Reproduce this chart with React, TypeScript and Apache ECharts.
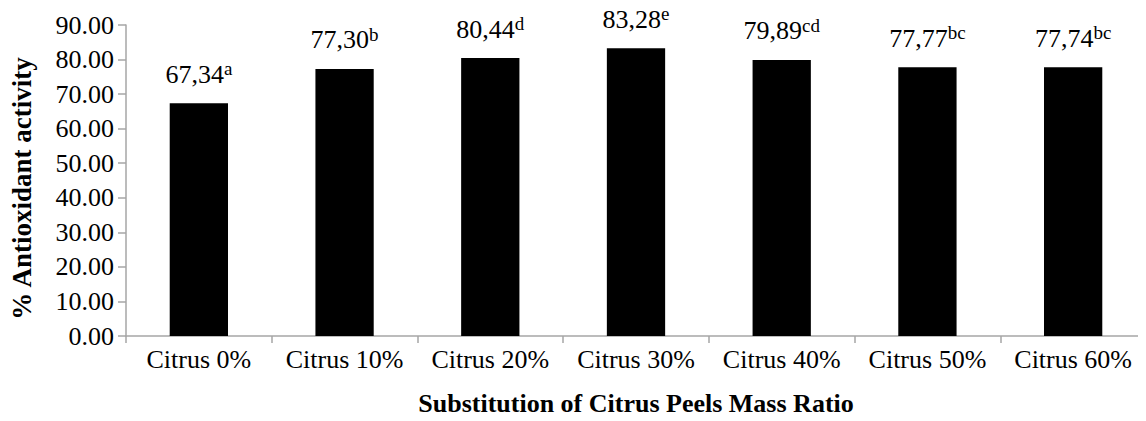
import React, { useEffect, useRef } from "react";
import * as echarts from "echarts";

const categories = ["Citrus 0%", "Citrus 10%", "Citrus 20%", "Citrus 30%", "Citrus 40%", "Citrus 50%", "Citrus 60%"];
const values = [67.34, 77.3, 80.44, 83.28, 79.89, 77.77, 77.74];
const valueTexts = ["67,34", "77,30", "80,44", "83,28", "79,89", "77,77", "77,74"];
const letters = ["a", "b", "d", "e", "cd", "bc", "bc"];

const FONT = "Liberation Serif";

export default function App() {
  const ref = useRef<HTMLDivElement>(null);
  useEffect(() => {
    if (!ref.current) return;
    const chart = echarts.init(ref.current, null, { renderer: "svg" });
    chart.setOption({
      animation: false,
      backgroundColor: "#fff",
      textStyle: { fontFamily: FONT },
      grid: { left: 126, top: 25, width: 1026, height: 315, containLabel: false },
      xAxis: {
        type: "category",
        data: categories,
        boundaryGap: true,
        axisLine: { lineStyle: { color: "#a6a6a6", width: 1.5 } },
        axisTick: { show: true, length: 7, interval: 0, lineStyle: { color: "#a6a6a6", width: 1.5 } },
        axisLabel: { color: "#000", fontSize: 26, fontFamily: FONT, margin: 10, interval: 0 },
        name: "Substitution of Citrus Peels Mass Ratio",
        nameLocation: "middle",
        nameGap: 54,
        nameTextStyle: { color: "#000", fontSize: 26, fontWeight: "bold", fontFamily: FONT },
      },
      yAxis: {
        type: "value",
        min: 0,
        max: 90,
        interval: 10,
        axisLine: { show: true, lineStyle: { color: "#a6a6a6", width: 1.5 } },
        axisTick: { show: true, length: 8, lineStyle: { color: "#a6a6a6", width: 1.5 } },
        splitLine: { show: false },
        axisLabel: {
          color: "#000",
          fontSize: 26,
          fontFamily: FONT,
          margin: 12,
          formatter: (v: number) => v.toFixed(2),
        },
        name: "% Antioxidant activity",
        nameLocation: "middle",
        nameGap: 91,
        nameTextStyle: { color: "#000", fontSize: 27, fontWeight: "bold", fontFamily: FONT, padding: [0, 16, 0, 0] },
      },
      series: [
        {
          type: "bar",
          data: values,
          barWidth: "40%",
          itemStyle: { color: "#000" },
          label: {
            show: true,
            position: "top",
            distance: 14,
            formatter: (p: any) => `{v|${valueTexts[p.dataIndex]}}{s|${letters[p.dataIndex]}}`,
            rich: {
              v: { fontSize: 26, fontFamily: FONT, color: "#000", lineHeight: 30 },
              s: { fontSize: 19, fontFamily: FONT, color: "#000", verticalAlign: "top", lineHeight: 16 },
            },
          },
        },
      ],
    });
    return () => chart.dispose();
  }, []);
  return <div ref={ref} style={{ width: 1146, height: 421, marginLeft: -8, marginTop: -8 }} />;
}
